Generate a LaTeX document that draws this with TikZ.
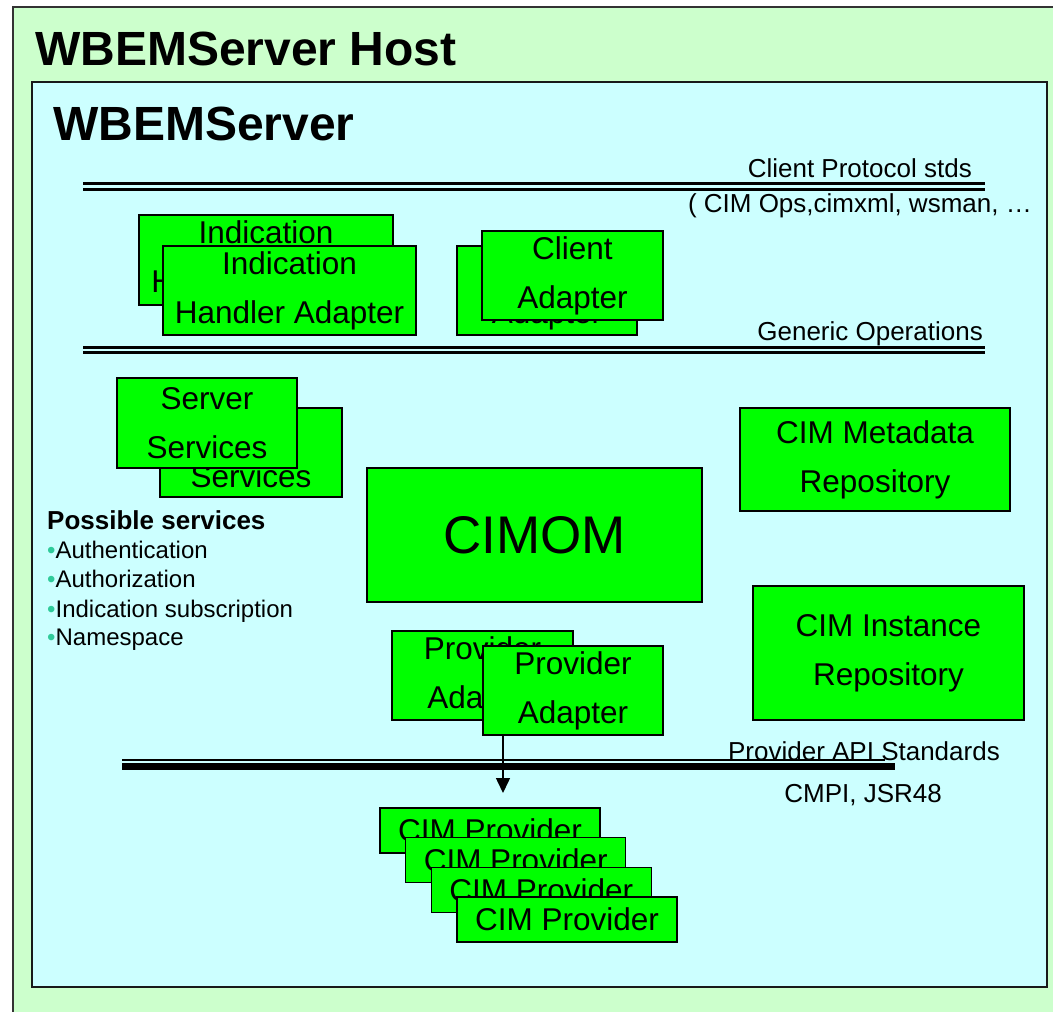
\documentclass[tikz,border=0pt]{standalone}
\usepackage{fontspec}
\setmainfont{Liberation Sans}
\usetikzlibrary{arrows.meta,positioning,calc}
\tikzset{>=Stealth}

\begin{document}
\begin{tikzpicture}[x=1pt, y=-1pt,
  >={Triangle[width=14pt,length=15pt]},
  compbox/.style={draw=black, fill=unitgreen, line width=1.6pt, align=center,
    inner sep=0pt, font=\fontsize{31.5}{49}\selectfont},
  provbox/.style={compbox, minimum width=220pt, minimum height=45pt},
  stdtext/.style={inner sep=0pt, font=\fontsize{26}{26}\selectfont},
  bigtitle/.style={inner sep=0pt, anchor=base west, font=\fontsize{48}{48}\selectfont\bfseries},
  svcitem/.style={inner sep=0pt, anchor=base west, font=\fontsize{24}{24}\selectfont},
  busline/.style={line width=2.4pt, double=serverbg}]
\definecolor{hostbg}{HTML}{CCFFCC}
\definecolor{serverbg}{HTML}{CCFFFF}
\definecolor{unitgreen}{HTML}{00FF00}
\definecolor{bulletteal}{HTML}{2FCB9A}
\useasboundingbox (0,0) rectangle (1053,1012);

% Cajas de fondo (host y servidor)
\draw[fill=hostbg, draw=black!80, line width=1.5pt] (13,7) rectangle (1080,1040);
\draw[fill=serverbg, draw=black!90, line width=1.8pt] (32,82) rectangle (1047,987);
\node[bigtitle] (hostTitle) at (35,65) {WBEMServer Host};
\node[bigtitle] (serverTitle) at (53,140) {WBEMServer};

% Buses
\draw[busline, double distance=3.6pt] (83,186.5) -- (985,186.5);
\draw[busline, double distance=2.4pt] (83,350) -- (985,350);
\draw[line width=1.5pt] (122,760) -- (885,760);
\draw[line width=7pt] (122,766.5) -- (895,766.5);
\node[stdtext, anchor=base east] (clientStds) at (972,177) {Client Protocol stds};
\node[stdtext, anchor=base east] (clientOps) at (1032,212) {( CIM Ops,cimxml, wsman, …};
\node[stdtext, anchor=base east] (genericOps) at (983,340) {Generic Operations};
\node[stdtext, anchor=base east] (provStds) at (1000,760) {Provider API Standards};
\node[stdtext, anchor=base east] (provApis) at (942,802) {CMPI, JSR48};

% Adaptadores
\node[compbox, minimum width=254pt, minimum height=90pt] (indBack) at (266,260) {Indication\\Handler Adapter};
\node[compbox, minimum width=253pt, minimum height=89pt] (indFront) at (289.5,290.5) {Indication\\Handler Adapter};
\node[compbox, minimum width=180pt, minimum height=89pt] (cliBack) at (547,290.5) {Client\\Adapter};
\node[compbox, minimum width=181pt, minimum height=89pt] (cliFront) at (572.5,275.5) {Client\\Adapter};

% Servicios
\node[compbox, minimum width=182pt, minimum height=89pt] (srvBack) at (251,452.5) {Server\\Services};
\node[compbox, minimum width=180pt, minimum height=90pt] (srvFront) at (207,423) {Server\\Services};
\node[inner sep=0pt, anchor=base west, font=\fontsize{26}{26}\selectfont\bfseries] (svcHead) at (47,529) {Possible services};
\foreach \i/\t/\yy in {1/Authentication/558, 2/Authorization/587,
                       3/Indication subscription/617, 4/Namespace/645}{
  \node[svcitem] (svc\i) at (47,\yy) {\textcolor{bulletteal}{•}\t};
}

% CIMOM y repositorios
\node[compbox, minimum width=335pt, minimum height=134pt, font=\fontsize{53}{53}\selectfont] (cimom) at (534.5,535) {CIMOM};
\node[compbox, minimum width=270pt, minimum height=103pt] (metaRepo) at (875,459.5) {CIM Metadata\\Repository};
\node[compbox, minimum width=271pt, minimum height=134pt] (instRepo) at (888.5,653) {CIM Instance\\Repository};

% Adaptador de proveedores
\node[compbox, minimum width=181pt, minimum height=89pt] (provBack) at (482.5,675.5) {Provider\\Adapter};
\node[compbox, minimum width=180pt, minimum height=89pt] (provFront) at (573,690.5) {Provider\\Adapter};

% Proveedores
\foreach \i in {1,...,4}{
  \node[provbox] (cimprov\i) at ({490+25.67*(\i-1)},{830.5+29.67*(\i-1)}) {CIM Provider};
}

\coordinate (provTip) at (503,793);
\draw[->, line width=1.5pt] (provFront.south west -| provTip) -- (provTip);

\end{tikzpicture}
\end{document}
